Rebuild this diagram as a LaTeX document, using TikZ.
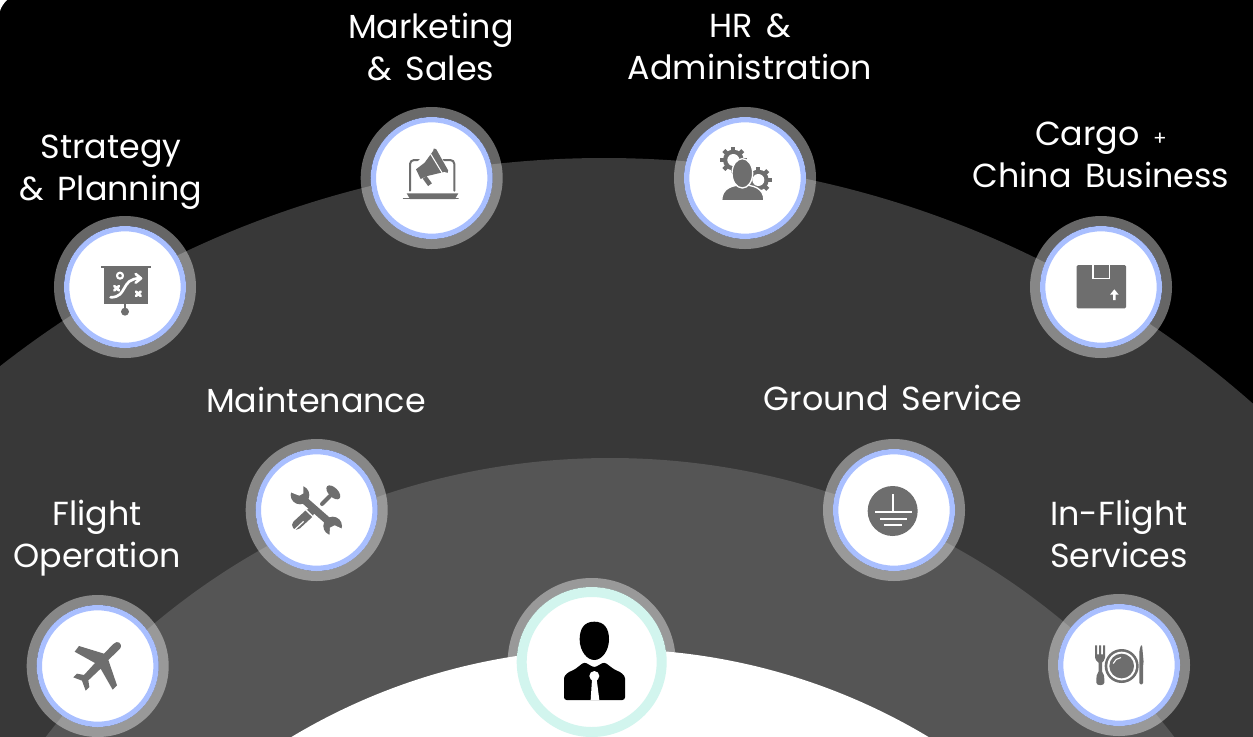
\documentclass[tikz,border=0pt]{standalone}
\usepackage{fontspec}
\setmainfont[WordSpace=1.5]{Poppins}
\definecolor{ringblue}{HTML}{A9BFFF}
\definecolor{ringteal}{HTML}{D2F5EE}
\definecolor{band}{HTML}{383838}
\definecolor{bandmid}{HTML}{555555}
\definecolor{icon}{HTML}{6E6E6E}
\tikzset{
  halo/.style={circle,draw=white,draw opacity=.4,line width=7.5pt,inner sep=0pt,outer sep=0pt,minimum size=99pt},
  disc/.style={circle,fill=white,draw=ringblue,line width=4pt,inner sep=0pt,outer sep=0pt,minimum size=87.5pt},
  bighalo/.style={halo,line width=6.75pt,minimum size=119.25pt},
  bigdisc/.style={disc,draw=ringteal,line width=7.5pt,minimum size=105pt},
  label/.style={text=white,align=center,inner sep=0pt,font=\fontsize{25}{31.5}\selectfont},
  zoomed/.style={shift={#1},x=.25pt,y=-.25pt},
  ico/.style={fill=icon,draw=none},
  wl/.style={draw=white,line width=#1,line cap=round,line join=round},
  il/.style={draw=icon,line width=#1,line cap=round,line join=round}
}
\begin{document}
\begin{tikzpicture}[x=.75pt,y=-.75pt]
\clip (0,0) rectangle (1253,736);
\fill[black] (0,0) rectangle (1253,736);
\fill[white] (0,0) -- (7,0) .. controls (4,3) and (1,7) .. (0,11) -- cycle;
% bands
\fill[band] (604,1138) circle[radius=980];
\fill[bandmid] (610,1168) circle[radius=710];
\fill[white] (610,1269) circle[radius=620];
% discs
\foreach \n/\px/\py in {mk/431.7/178,hr/745/178,st/125/287,cg/1101/287,mt/316.7/510,gd/894/510,fl/97.7/666,inf/1119/665}{
  \node[halo] (\n h) at (\px,\py) {};
  \node[disc] (\n) at (\px,\py) {};
}
\node[bighalo] (ceoh) at (591.7,662) {};
\node[bigdisc] (ceo) at (591.7,662) {};
% labels
\node[label] (lmk) at (431,47) {Marketing\\\& Sales};
\node[label] (lhr) at (750,47) {HR \&\\Administration};
\node[label] (lst) at (111,172) {Strategy\\\& Planning};
\node[label] (lcg) at (1101,155) {Cargo {\fontsize{15}{15}\selectfont +}\\China Business};
\node[label] (lmt) at (316,400) {Maintenance};
\node[label] (lgd) at (893,398) {Ground Service};
\node[label] (lfl) at (97,538) {Flight\\Operation};
\node[label] (lin) at (1119,534) {In-Flight\\Services};
% marketing icon
\begin{scope}[zoomed={(350,100)}]
  \draw[il=1.5pt,rounded corners=3pt] (180,272) -- (180,180) -- (313,180) -- (313,272);
  \fill[ico] (170,280) -- (325,280) -- (315,297) -- (180,297) -- cycle;
  \draw[il=.6pt] (160,296) -- (325,296);
  \fill[white] (190,198) -- (250,135) -- (305,220) -- (255,262) -- (230,262) -- (190,225) -- cycle;
  \fill[ico] (250,152) -- (290,214) -- (232,228) -- (212,237) -- (198,208) -- (224,188) -- cycle;
  \draw[wl=.8pt] (242,162) -- (276,218);
  \draw[il=2.6pt] (254,150) -- (290,214);
  \draw[il=3.5pt,line cap=butt] (224,232) -- (240,254);
\end{scope}
% hr icon
\begin{scope}[zoomed={(665,100)}]
  \foreach \cx/\cy in {205/180,280/240}{
    \fill[ico] (\cx,\cy) circle[radius=31];
    \foreach \a in {0,45,...,315}
      \draw[il=3.2pt,line cap=butt] (\cx,\cy) ++(\a:26) -- ++(\a:14);
    \fill[white] (\cx,\cy) circle[radius=18];
  }
  \fill[ico,draw=white,line width=1pt] (170,302) .. controls (170,262) and (205,255) .. (232,255) .. controls (262,255) and (297,262) .. (297,302) -- cycle;
  \fill[ico,draw=white,line width=1pt] (232,220) ellipse[x radius=31,y radius=44];
\end{scope}
% strategy icon
\begin{scope}[zoomed={(45,210)}]
  \fill[ico] (168,167) rectangle (318,175);
  \fill[ico] (177,175) rectangle (310,283);
  \draw[il=1.4pt] (240,283) -- (240,300);
  \fill[ico] (240,305) circle[radius=12];
  \draw[wl=1.6pt] (225,197) circle[radius=9];
  \draw[wl=2pt] (208,228) -- (222,241) (222,228) -- (208,241);
  \draw[wl=2pt] (273,245) -- (287,258) (287,245) -- (273,258);
  \draw[wl=2pt] (197,262) .. controls (250,262) and (225,205) .. (285,205);
  \draw[wl=2pt] (272,192) -- (288,205) -- (272,218);
\end{scope}
% cargo icon
\begin{scope}[zoomed={(1020,210)}]
  \fill[ico,rounded corners=1pt] (170,165) rectangle (318,295);
  \draw[wl=1.1pt,line cap=butt,line join=miter] (219,165) -- (219,205) -- (269,205) -- (269,165);
  \fill[white] (283,238) -- (296,254) -- (287,254) -- (287,270) -- (279,270) -- (279,254) -- (270,254) -- cycle;
\end{scope}
% maintenance icon
\begin{scope}[zoomed={(240,430)}]
  \draw[il=7pt,line cap=round] (170,285) -- (208,250);
  \draw[wl=.9pt] (163,300) -- (190,275);
  \draw[il=3pt] (246,222) -- (270,198);
  \fill[ico,rotate around={-45:(280,187)}] (280,187) ellipse[x radius=26,y radius=14];
  \draw[wl=1pt,line cap=butt] (196,238) -- (250,290);
  \draw[il=5.5pt,line cap=butt] (190,208) -- (272,280);
  \fill[ico] (180,195) circle[radius=28];
  \fill[ico] (278,288) circle[radius=28];
  \fill[white] (165,160) -- (190,160) -- (190,190) -- (178,197) -- (150,186) -- cycle;
  \fill[white] (268,320) -- (312,320) -- (310,298) -- (284,286) -- (270,293) -- cycle;
\end{scope}
% ground icon
\begin{scope}[zoomed={(815,430)}]
  \fill[ico] (233,243) circle[radius=75];
  \draw[wl=1.7pt,line cap=butt] (233,192) -- (233,247) (180,247) -- (290,247) (195,267) -- (275,267) (208,286) -- (262,286);
\end{scope}
% flight icon
\begin{scope}[zoomed={(20,586)}]
  \fill[ico] (298,170) .. controls (306,178) and (304,186) .. (294,194) -- (265,222) -- (291,298) -- (278,311) -- (242,248) -- (205,283) -- (208,303) -- (197,314) -- (186,284) -- (160,274) -- (171,263) -- (192,267) -- (225,231) -- (164,197) -- (177,180) -- (252,203) -- (280,174) .. controls (287,168) and (293,166) .. (298,170) -- cycle;
\end{scope}
% in-flight icon
\begin{scope}[zoomed={(1040,586)}]
  \fill[ico] (165,178) -- (171,178) -- (171,205) -- (177,205) -- (177,178) -- (183,178) -- (183,205) -- (189,205) -- (189,178) -- (195,178) -- (195,215) .. controls (195,222) and (188,228) .. (186,230) -- (186,256) .. controls (192,262) and (193,270) .. (193,290) .. controls (193,300) and (169,300) .. (169,290) .. controls (169,270) and (170,262) .. (176,256) -- (176,230) .. controls (172,226) and (165,222) .. (165,215) -- cycle;
  \fill[ico] (245,240) circle[radius=51];
  \fill[white] (245,240) circle[radius=43];
  \fill[ico] (245,240) circle[radius=37];
  \draw[wl=.8pt] (220,232) arc[start angle=200,end angle=265,radius=26];
  \fill[ico,rounded corners=1pt] (298,295) -- (298,205) .. controls (298,190) and (302,180) .. (306,175) -- (311,230) -- (309,240) -- (309,295) -- cycle;
\end{scope}
% ceo icon
\begin{scope}[zoomed={(500,576)}]
  \fill[black] (283,137) .. controls (315,137) and (327,160) .. (327,190) .. controls (327,225) and (305,252) .. (283,252) .. controls (261,252) and (239,225) .. (239,190) .. controls (239,160) and (251,137) .. (283,137) -- cycle;
  \fill[black,rounded corners=2pt] (192,372) -- (192,315) .. controls (192,298) and (205,288) .. (222,282) -- (253,258) -- (283,275) -- (313,258) -- (345,282) .. controls (362,288) and (375,298) .. (375,315) -- (375,372) -- cycle;
  \fill[white] (283,300) circle[radius=15];
  \fill[white] (276,310) -- (290,310) -- (298,372) -- (272,372) -- cycle;
\end{scope}
\end{tikzpicture}
\end{document}
